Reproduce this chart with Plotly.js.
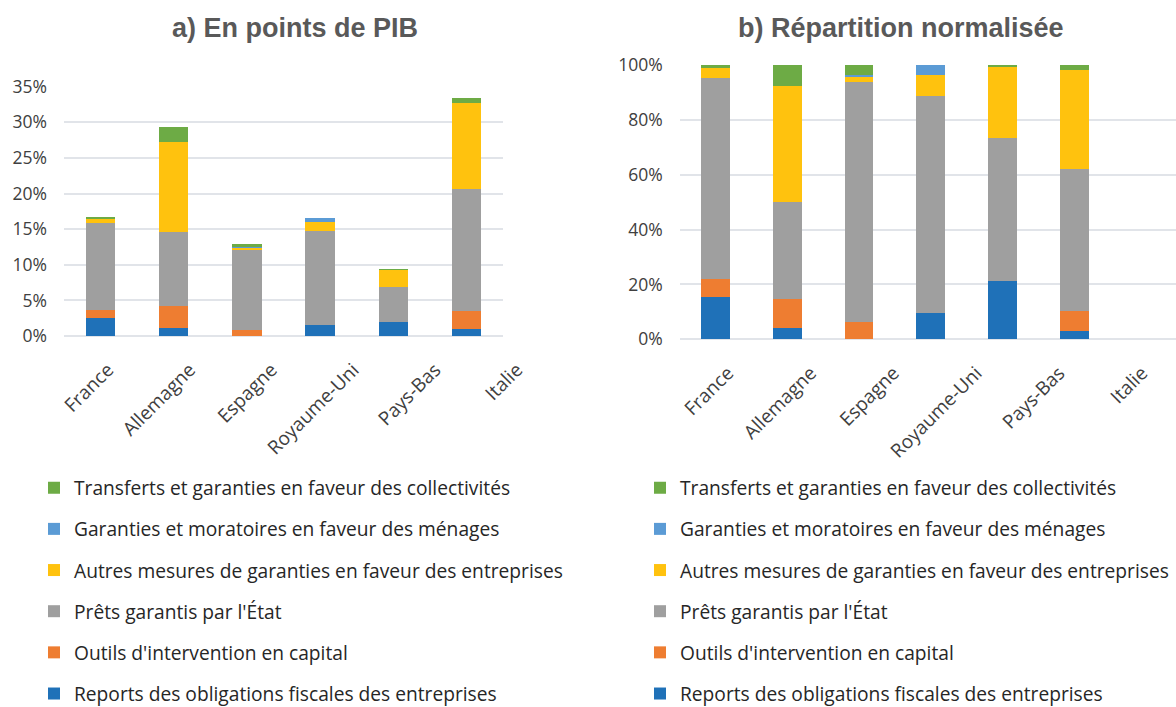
<!DOCTYPE html>
<html>
<head>
<meta charset="utf-8">
<script src="https://cdn.plot.ly/plotly-3.0.1.min.js"></script>
<style>
  html, body { margin: 0; padding: 0; background: #fff; }
  #chart { width: 1176px; height: 707px; }
</style>
</head>
<body>
<div id="chart"></div>
<script>
// countries on the x axis
var pays = ["France", "Allemagne", "Espagne", "Royaume-Uni", "Pays-Bas", "Italie"];

// each measure in points of GDP (%), read off panel a)
var reports = [2.6, 1.17, 0.0, 1.6, 2.0, 0.95];
var outils = [1.05, 3.1, 0.8, 0.0, 0.0, 2.5];
var prets = [12.25, 10.4, 11.35, 13.1, 4.9, 17.2];
var autres = [0.6, 12.5, 0.26, 1.3, 2.45, 12.1];
var menages = [0.0, 0.0, 0.07, 0.6, 0.0, 0.0];
var collectivites = [0.2, 2.2, 0.45, 0.0, 0.05, 0.6];

var noms = [
    "Reports des obligations fiscales des entreprises",
    "Outils d'intervention en capital",
    "Prêts garantis par l'État",
    "Autres mesures de garanties en faveur des entreprises",
    "Garanties et moratoires en faveur des ménages",
    "Transferts et garanties en faveur des collectivités"
];
var couleurs = ["#1F71B8", "#EE7D31", "#9F9F9F", "#FFC20E", "#5B9BD5", "#6DAB45"];

var series = [reports, outils, prets, autres, menages, collectivites];

// totals per country, used to normalise panel b)
var totaux = pays.map(function (p, i) {
    return series.reduce(function (s, arr) { return s + arr[i]; }, 0);
});

var traces = [];
series.forEach(function (vals, k) {
    // panel a: raw values
    traces.push({
        type: "bar", x: pays, y: vals, name: noms[k],
        marker: { color: couleurs[k] }, width: 0.4,
        xaxis: "x", yaxis: "y", legend: "legend", legendgroup: "a" + k,
        legendrank: 100 - k,
        hovertemplate: "%{x}: %{y:.2f}%<extra>" + noms[k] + "</extra>"
    });
    // panel b: share of the total
    traces.push({
        type: "bar", x: pays,
        y: vals.map(function (v, i) { return 100 * v / totaux[i]; }),
        name: noms[k],
        marker: { color: couleurs[k] }, width: 0.4,
        xaxis: "x2", yaxis: "y2", legend: "legend2", legendgroup: "b" + k,
        legendrank: 100 - k,
        hovertemplate: "%{x}: %{y:.1f}%<extra>" + noms[k] + "</extra>"
    });
});

// the category labels in the source sit on a slightly wider spacing than the bars,
// so they are drawn on their own label-only axes (empty traces just make the subplots exist)
var idx = pays.map(function (p, i) { return i; });
var vide = pays.map(function () { return null; });
["3", "4"].forEach(function (n) {
    traces.push({
        type: "scatter", mode: "markers", x: idx, y: vide,
        xaxis: "x" + n, yaxis: "y" + n, showlegend: false, hoverinfo: "skip"
    });
});

var yTickFont = { family: "Open Sans, sans-serif", size: 17.5, color: "#404040" };
var xTickFont = { family: "Open Sans, sans-serif", size: 19, color: "#404040" };
var gridCol = "#E1E4E9";

var legendCommon = {
    traceorder: "grouped",
    tracegroupgap: 13.2,
    font: { family: "Open Sans, sans-serif", size: 19.2, color: "#262626" },
    bgcolor: "rgba(0,0,0,0)",
    yanchor: "top", y: 0.337,
    itemclick: false
};

var layout = {
    width: 1176, height: 707,
    margin: { l: 0, r: 0, t: 0, b: 0, autoexpand: false },
    paper_bgcolor: "#fff", plot_bgcolor: "rgba(0,0,0,0)",
    barmode: "stack",
    showlegend: true,
    xaxis: {
        domain: [0.0544, 0.4277], range: [-0.5, 5.5],
        showticklabels: false, showgrid: false,
        showline: false, ticks: "", fixedrange: true
    },
    yaxis: {
        domain: [0.5247, 0.8774], range: [0, 35], dtick: 5,
        ticksuffix: "%", tickfont: yTickFont, gridcolor: gridCol, gridwidth: 2,
        zeroline: true, zerolinecolor: gridCol, zerolinewidth: 2,
        ticklabelstandoff: 16, fixedrange: true
    },
    xaxis2: {
        domain: [0.578, 1.0], range: [-0.5, 6.42],
        showticklabels: false, showgrid: false,
        showline: false, ticks: "", fixedrange: true, anchor: "y2"
    },
    yaxis2: {
        domain: [0.5201, 0.9081], range: [0, 100], dtick: 20,
        ticksuffix: "%", tickfont: yTickFont, gridcolor: gridCol, gridwidth: 2,
        zeroline: true, zerolinecolor: gridCol, zerolinewidth: 2,
        ticklabelstandoff: 16, fixedrange: true, anchor: "x2"
    },
    // label-only axes
    xaxis3: {
        domain: [64 / 1176, 600 / 1176], range: [-0.538, 6.015], type: "linear",
        tickmode: "array", tickvals: idx, ticktext: pays,
        tickangle: -45, tickfont: xTickFont, showgrid: false, zeroline: false,
        showline: false, ticks: "", fixedrange: true, anchor: "y3", ticklabelstandoff: 18
    },
    yaxis3: {
        domain: [0.5247, 0.8774], range: [0, 1], visible: false, fixedrange: true, anchor: "x3"
    },
    xaxis4: {
        domain: [680 / 1176, 1.0], range: [-0.58, 5.41], type: "linear",
        tickmode: "array", tickvals: idx, ticktext: pays,
        tickangle: -45, tickfont: xTickFont, showgrid: false, zeroline: false,
        showline: false, ticks: "", fixedrange: true, anchor: "y4", ticklabelstandoff: 18
    },
    yaxis4: {
        domain: [0.5201, 0.9081], range: [0, 1], visible: false, fixedrange: true, anchor: "x4"
    },
    legend: Object.assign({}, legendCommon, { x: 34 / 1176, xanchor: "left" }),
    legend2: Object.assign({}, legendCommon, { x: 640 / 1176, xanchor: "left" }),
    annotations: [
        {
            text: "<b>a) En points de PIB</b>", xref: "paper", yref: "paper",
            x: 295 / 1176, y: 0.96, xanchor: "center", yanchor: "middle", showarrow: false,
            font: { family: "Liberation Sans, Arial, sans-serif", size: 27, color: "#595959" }
        },
        {
            text: "<b>b) Répartition normalisée</b>", xref: "paper", yref: "paper",
            x: 901 / 1176, y: 0.96, xanchor: "center", yanchor: "middle", showarrow: false,
            font: { family: "Liberation Sans, Arial, sans-serif", size: 27, color: "#595959" }
        }
    ]
};

Plotly.newPlot("chart", traces, layout, { displayModeBar: false });
</script>
</body>
</html>
